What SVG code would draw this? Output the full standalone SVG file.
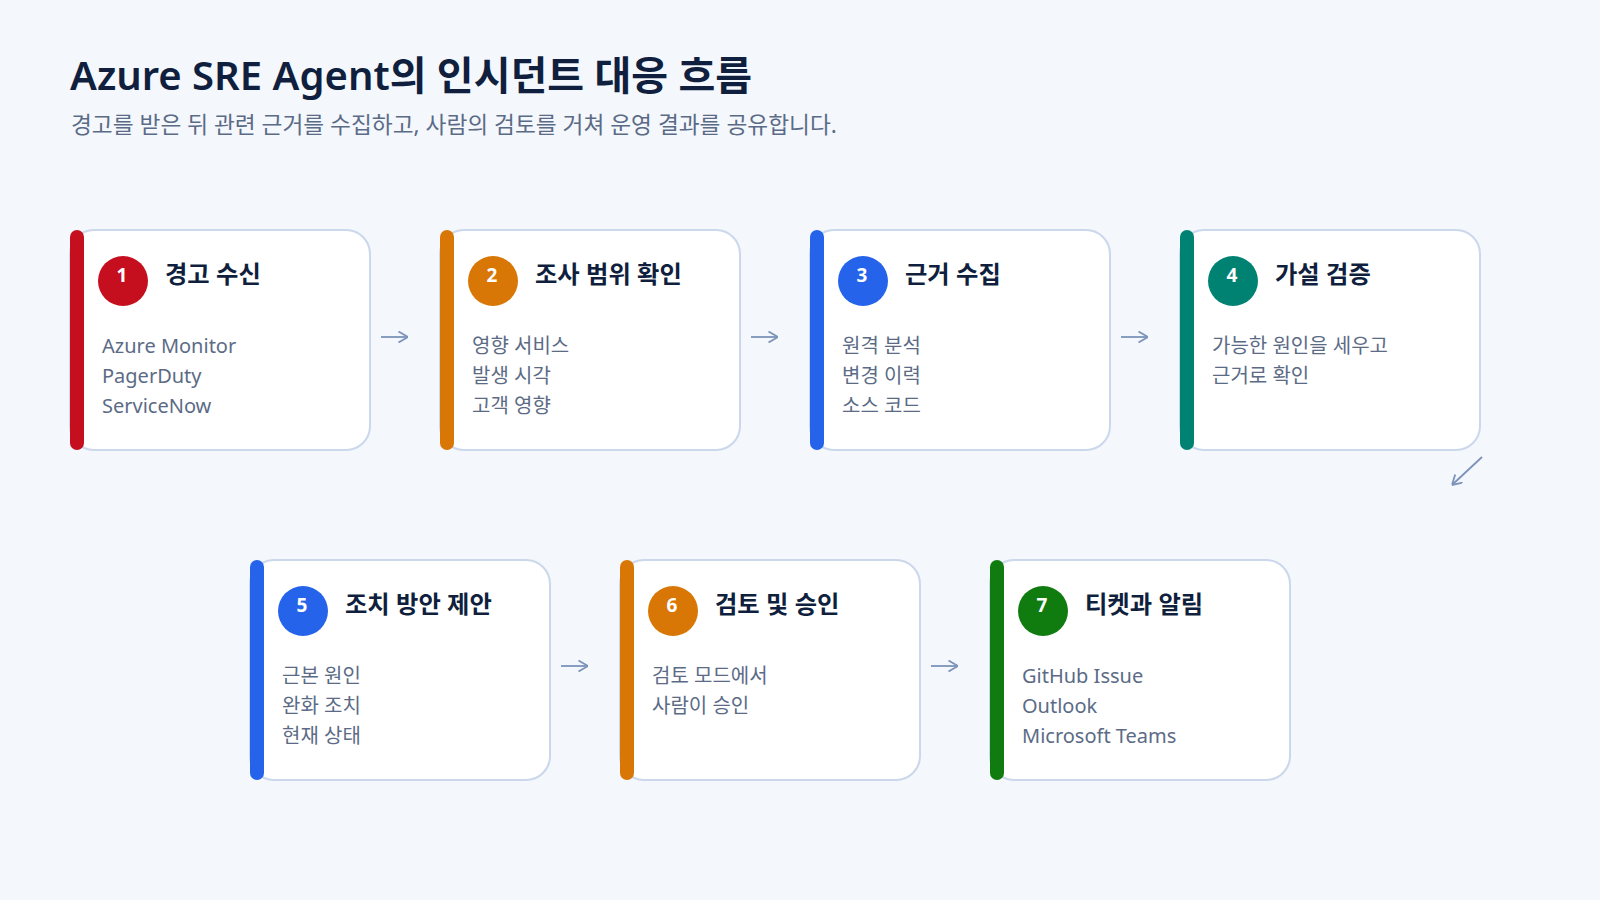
<svg xmlns="http://www.w3.org/2000/svg" width="1600" height="900" viewBox="0 0 1600 900">
<style>
.bg{fill:#f4f7fc}
.card{fill:#ffffff;stroke:#cbd7ea;stroke-width:2}
.h1{font-family:"Noto Sans","Noto Sans CJK KR",sans-serif;font-size:40px;font-weight:600;fill:#0f1f3d}
.sub{font-family:"Noto Sans","Noto Sans CJK KR",sans-serif;font-size:22.7px;fill:#5b6b86}
.ttl{font-family:"Noto Sans","Noto Sans CJK KR",sans-serif;font-size:24.3px;font-weight:700;fill:#0f1f3d}
.num{font-family:"Noto Sans","Noto Sans CJK KR",sans-serif;font-size:19px;font-weight:700;fill:#ffffff;text-anchor:middle}
.body{font-family:"Noto Sans","Noto Sans CJK KR",sans-serif;font-size:20px;fill:#5b6b86}
.conn{fill:none;stroke:#7c93b9;stroke-width:1.8;marker-end:url(#ah)}
</style>
<defs>
<marker id="ah" viewBox="0 0 10 12" markerWidth="10" markerHeight="12" refX="10" refY="6" orient="auto" markerUnits="userSpaceOnUse">
<path d="M0.5,0.5 L10,6 L0.5,11.5" fill="none" stroke="#7c93b9" stroke-width="1.8"/>
</marker>
</defs>
<rect class="bg" x="0" y="0" width="1600" height="900"/>
<text class="h1" x="70" y="90">Azure SRE Agent의 인시던트 대응 흐름</text>
<text class="sub" x="71" y="133">경고를 받은 뒤 관련 근거를 수집하고, 사람의 검토를 거쳐 운영 결과를 공유합니다.</text>

<g id="connectors">
<path class="conn" d="M381,337 L408,337"/>
<path class="conn" d="M751,337 L778,337"/>
<path class="conn" d="M1121,337 L1148,337"/>
<path class="conn" d="M1482,457 L1452,485"/>
<path class="conn" d="M561,666 L588,666"/>
<path class="conn" d="M931,666 L958,666"/>
</g>

<g id="step1">
<rect class="card" x="70" y="230" width="300" height="220" rx="24"/>
<rect x="70" y="230" width="14" height="220" rx="7" fill="#c50f1f"/>
<circle cx="123" cy="281" r="25" fill="#c50f1f"/>
<text class="num" x="122" y="282">1</text>
<text class="ttl" x="165" y="283">경고 수신</text>
<text class="body" x="102" y="353">Azure Monitor</text>
<text class="body" x="102" y="383">PagerDuty</text>
<text class="body" x="102" y="413">ServiceNow</text>
</g>

<g id="step2">
<rect class="card" x="440" y="230" width="300" height="220" rx="24"/>
<rect x="440" y="230" width="14" height="220" rx="7" fill="#d97706"/>
<circle cx="493" cy="281" r="25" fill="#d97706"/>
<text class="num" x="492" y="282">2</text>
<text class="ttl" x="535" y="283">조사 범위 확인</text>
<text class="body" x="472" y="353">영향 서비스</text>
<text class="body" x="472" y="383">발생 시각</text>
<text class="body" x="472" y="413">고객 영향</text>
</g>

<g id="step3">
<rect class="card" x="810" y="230" width="300" height="220" rx="24"/>
<rect x="810" y="230" width="14" height="220" rx="7" fill="#2563eb"/>
<circle cx="863" cy="281" r="25" fill="#2563eb"/>
<text class="num" x="862" y="282">3</text>
<text class="ttl" x="905" y="283">근거 수집</text>
<text class="body" x="842" y="353">원격 분석</text>
<text class="body" x="842" y="383">변경 이력</text>
<text class="body" x="842" y="413">소스 코드</text>
</g>

<g id="step4">
<rect class="card" x="1180" y="230" width="300" height="220" rx="24"/>
<rect x="1180" y="230" width="14" height="220" rx="7" fill="#008272"/>
<circle cx="1233" cy="281" r="25" fill="#008272"/>
<text class="num" x="1232" y="282">4</text>
<text class="ttl" x="1275" y="283">가설 검증</text>
<text class="body" x="1212" y="353">가능한 원인을 세우고</text>
<text class="body" x="1212" y="383">근거로 확인</text>
</g>

<g id="step5">
<rect class="card" x="250" y="560" width="300" height="220" rx="24"/>
<rect x="250" y="560" width="14" height="220" rx="7" fill="#2563eb"/>
<circle cx="303" cy="611" r="25" fill="#2563eb"/>
<text class="num" x="302" y="612">5</text>
<text class="ttl" x="345" y="613">조치 방안 제안</text>
<text class="body" x="282" y="683">근본 원인</text>
<text class="body" x="282" y="713">완화 조치</text>
<text class="body" x="282" y="743">현재 상태</text>
</g>

<g id="step6">
<rect class="card" x="620" y="560" width="300" height="220" rx="24"/>
<rect x="620" y="560" width="14" height="220" rx="7" fill="#d97706"/>
<circle cx="673" cy="611" r="25" fill="#d97706"/>
<text class="num" x="672" y="612">6</text>
<text class="ttl" x="715" y="613">검토 및 승인</text>
<text class="body" x="652" y="683">검토 모드에서</text>
<text class="body" x="652" y="713">사람이 승인</text>
</g>

<g id="step7">
<rect class="card" x="990" y="560" width="300" height="220" rx="24"/>
<rect x="990" y="560" width="14" height="220" rx="7" fill="#107c10"/>
<circle cx="1043" cy="611" r="25" fill="#107c10"/>
<text class="num" x="1042" y="612">7</text>
<text class="ttl" x="1085" y="613">티켓과 알림</text>
<text class="body" x="1022" y="683">GitHub Issue</text>
<text class="body" x="1022" y="713">Outlook</text>
<text class="body" x="1022" y="743">Microsoft Teams</text>
</g>
</svg>
